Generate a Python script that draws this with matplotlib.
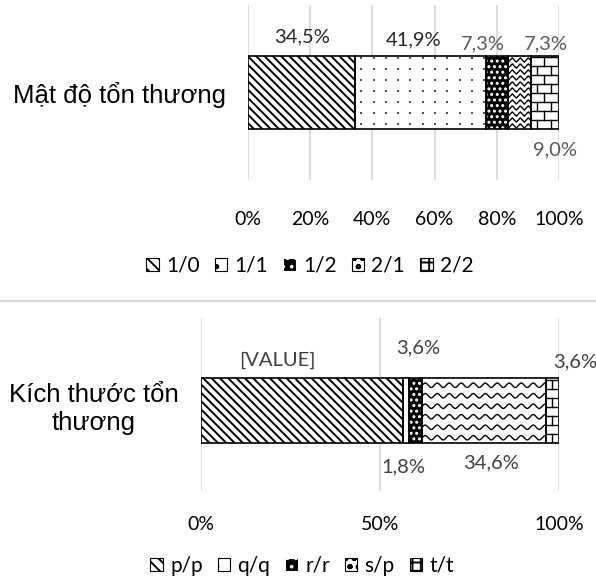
import numpy as np
import matplotlib
matplotlib.use("Agg")
import matplotlib.pyplot as plt
from matplotlib.patches import Patch
from matplotlib.lines import Line2D

# dữ liệu
top_category = "Mật độ tổn thương"
top_names = ["1/0", "1/1", "1/2", "2/1", "2/2"]
top_values = [34.5, 41.9, 7.3, 7.3, 9.0]
top_ticks = [0, 20, 40, 60, 80, 100]

bot_category = "Kích thước tổn\nthương"
bot_names = ["p/p", "q/q", "r/r", "s/p", "t/t"]
bot_values = [56.4, 1.8, 3.6, 34.6, 3.6]
bot_labels = ["[VALUE]", "1,8%", "3,6%", "34,6%", "3,6%"]
bot_ticks = [0, 50, 100]

W, H = 596, 582
plt.rcParams["hatch.linewidth"] = 1.4
CAL = ["Lato", "DejaVu Sans"]
ARIAL = ["Liberation Sans", "DejaVu Sans"]
GRID = "#d9d9d9"
FS_TICK, FS_LAB, FS_LEG, FS_CAT = 14, 14.5, 15, 18.5

fig = plt.figure(figsize=(W / 100, H / 100), dpi=100)


def fmt(v):
    return ("%.1f%%" % v).replace(".", ",")


def px_scale(ax):
    pos = ax.get_position()
    x0, x1 = ax.get_xlim()
    y0, y1 = ax.get_ylim()
    return pos.width * W / (x1 - x0), pos.height * H / (y1 - y0)


def pattern(ax, patch, kind):
    sx, sy = px_scale(ax)
    x0, y0 = patch.get_x(), patch.get_y()
    w, h = patch.get_width(), patch.get_height()
    wpx, hpx = w * sx, h * sy
    lines = []
    if kind in ("wave", "zig"):
        step = 10.5 if kind == "wave" else 6
        per = 12 if kind == "wave" else 8
        amp = 2.2
        u = np.linspace(0, wpx, max(int(wpx * 2), 10))
        if kind == "wave":
            off = amp * np.sin(2 * np.pi * u / per)
        else:
            off = amp * (2 * np.abs(2 * (u / per - np.floor(u / per + 0.5))) - 1)
        for r in np.arange(step / 2, hpx + step, step):
            lines.append((x0 + u / sx, y0 + (r + off) / sy))
    elif kind == "brick":
        step, bw = 9, 14
        rows = np.arange(0, hpx + step, step)
        for i, r in enumerate(rows):
            lines.append((np.array([x0, x0 + w]), np.array([y0 + r / sy] * 2)))
            start = (bw / 2) * (i % 2) + 6
            for c in np.arange(start, wpx, bw):
                lines.append((np.array([x0 + c / sx] * 2),
                              np.array([y0 + r / sy, y0 + (r + step) / sy])))
    elif kind == "dots":
        gx, gy = np.meshgrid(np.arange(6, wpx, 12.3), np.arange(5, hpx, 11))
        d, = ax.plot(x0 + gx.ravel() / sx, y0 + gy.ravel() / sy, ls="none",
                     marker="s", ms=1.8, mew=0, color="#555555", zorder=3)
        d.set_clip_path(patch)
    for xs, ys in lines:
        ln, = ax.plot(xs, ys, color="black", lw=1.0, zorder=3)
        ln.set_clip_path(patch)


# kiểu của từng phần
styles = [
    dict(fc="white", hc="black", hatch="\\\\\\\\", kind=None),
    dict(fc="white", hc="black", hatch=None, kind="dots"),
    dict(fc="black", hc="white", hatch="...", kind=None),
    dict(fc="white", hc="black", hatch=None, kind="zig"),
    dict(fc="white", hc="black", hatch=None, kind="brick"),
]
bot_kinds = ["", "", "", "wave", "brick"]


def draw(ax, values, kinds, bh, yc):
    left = np.concatenate([[0], np.cumsum(values)[:-1]])
    for i, v in enumerate(values):
        st = dict(styles[i])
        if kinds is not None and kinds[i]:
            st["kind"] = kinds[i]
            st["hatch"] = None
        b = ax.barh([yc], [v], left=[left[i]], height=bh, color=st["fc"],
                    edgecolor=st["hc"], hatch=st["hatch"], lw=0, zorder=2)[0]
        if st["kind"]:
            pattern(ax, b, st["kind"])
        ax.barh([yc], [v], left=[left[i]], height=bh, fill=False,
                edgecolor="black", lw=1.2, zorder=4)
    return left


def setup(ax, ticks, cat, pad_tick, pad_cat):
    ax.set_xlim(0, 100)
    ax.set_ylim(-0.5, 0.5)
    ax.set_xticks(ticks)
    ax.set_xticklabels(["%d%%" % t for t in ticks], fontfamily=CAL, fontsize=FS_TICK)
    ax.set_yticks([0])
    ax.set_yticklabels([cat], fontfamily=ARIAL, fontsize=FS_CAT, multialignment="center")
    ax.tick_params(axis="x", length=0, pad=pad_tick)
    ax.tick_params(axis="y", length=0, pad=pad_cat)
    for s in ax.spines.values():
        s.set_visible(False)
    ax.xaxis.grid(True, color=GRID, lw=1.3)
    ax.set_axisbelow(True)


# biểu đồ trên
ax1 = fig.add_axes([248 / W, 1 - 180 / H, 311 / W, 175 / H])
setup(ax1, top_ticks, top_category, 22, 16)
bh1 = 73 / 175
left1 = draw(ax1, top_values, None, bh1, 0)
top_off = [(0, 14, 1), (-5, 11.5, 1), (-10, 8.6, 1), (19, 8.6, 1), (7, -15, -1)]
top_col = ["#262626", "#262626", "#595959", "#595959", "#595959"]
for i, v in enumerate(top_values):
    dx, dy, side = top_off[i]
    ax1.annotate(fmt(v), (left1[i] + v / 2, side * bh1 / 2), xytext=(dx, dy),
                 textcoords="offset points", ha="center", va="center",
                 fontfamily=CAL, fontsize=FS_LAB, color=top_col[i])

# biểu đồ dưới
ax2 = fig.add_axes([201 / W, 1 - 491 / H, 358 / W, 173 / H])
setup(ax2, bot_ticks, bot_category, 18, 16)
bh2 = 65 / 173
yc2 = -6 / 173
left2 = draw(ax2, bot_values, bot_kinds, bh2, yc2)
bot_off = [(-18, 13, 1), (-2, -17, -1), (1.4, 22, 1), (5, -14.4, -1), (16, 11.5, 1)]
for i, v in enumerate(bot_values):
    dx, dy, side = bot_off[i]
    ax2.annotate(bot_labels[i], (left2[i] + v / 2, yc2 + side * bh2 / 2), xytext=(dx, dy),
                 textcoords="offset points", ha="center", va="center",
                 fontfamily=CAL, fontsize=FS_LAB, color="#404040", annotation_clip=False)

# chú thích
leg_hatch = ["\\\\\\", ".", "..", "oo", "++"]
leg_fc = ["white", "white", "black", "white", "white"]
leg_hc = ["black", "black", "white", "black", "black"]


def handles(names):
    return [Patch(facecolor=leg_fc[i], edgecolor=leg_hc[i], hatch=leg_hatch[i], lw=0.8)
            for i in range(len(names))]


for names, y, x in [(top_names, 1 - 266 / H, 0.52), (bot_names, 1 - 566 / H, 0.507)]:
    fig.legend(handles(names), names, loc="center", bbox_to_anchor=(x, y), ncol=5,
               frameon=False, handlelength=0.6, handleheight=0.6,
               handletextpad=0.35, columnspacing=0.72,
               prop=dict(family=CAL, size=FS_LEG))

fig.add_artist(Line2D([0, 1], [1 - 301 / H] * 2, transform=fig.transFigure,
                      color=GRID, lw=1.6))

fig.savefig("out.png", dpi=100)
